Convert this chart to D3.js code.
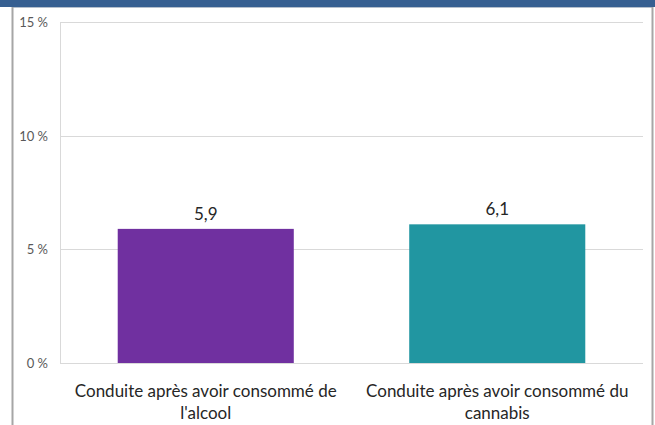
<!DOCTYPE html>
<html>
<head>
<meta charset="utf-8">
<script src="https://cdn.jsdelivr.net/npm/d3@7"></script>
<style>
  body { margin: 0; background: #fff; }
  svg { display: block; font-family: Lato, "Open Sans", sans-serif; }
</style>
</head>
<body>
<div class="contain"></div>
<script>
// data
const categories = ["Conduite après avoir consommé de l'alcool", "Conduite après avoir consommé du cannabis"];
const catLines = [["Conduite après avoir consommé de", "l'alcool"], ["Conduite après avoir consommé du", "cannabis"]];
const values = [5.9, 6.1];
const valueLabels = ["5,9", "6,1"];
const yTicks = [0, 5, 10, 15];
const barColors = ["#7030a0", "#2196a1"];

const svg_width = 655;
const svg_height = 425;

let svg = d3.select(".contain").append("svg")
  .attr("width", svg_width).attr("height", svg_height);

// frame
svg.append("rect").attr("x", 0).attr("y", 0).attr("width", svg_width).attr("height", 7)
  .attr("fill", "#365f91");
svg.append("line").attr("x1", 12).attr("x2", 653).attr("y1", 7.5).attr("y2", 7.5)
  .attr("stroke", "#b4bfcc");
svg.append("line").attr("x1", 12.5).attr("x2", 12.5).attr("y1", 7).attr("y2", svg_height)
  .attr("stroke", "#a6a6a6").attr("stroke-width", 2);
svg.append("line").attr("x1", 652.5).attr("x2", 652.5).attr("y1", 7).attr("y2", svg_height)
  .attr("stroke", "#a6a6a6").attr("stroke-width", 2);

const plot_left = 60, plot_right = 643, plot_top = 22, plot_bottom = 363;

let yScale = d3.scaleLinear().domain([0, 15]).range([plot_bottom, plot_top]);
let xScale = d3.scaleBand().domain(categories).range([plot_left, plot_right])
  .paddingInner(0.396).paddingOuter(0.198);

// gridlines
svg.append("g").selectAll("line").data(yTicks).enter().append("line")
  .attr("x1", plot_left).attr("x2", plot_right)
  .attr("y1", d => Math.round(yScale(d)) + 0.5).attr("y2", d => Math.round(yScale(d)) + 0.5)
  .attr("stroke", "#d9d9d9");
svg.append("line").attr("x1", plot_left + 0.5).attr("x2", plot_left + 0.5)
  .attr("y1", plot_top).attr("y2", plot_bottom + 0.5).attr("stroke", "#d9d9d9");

// y tick labels
svg.append("g").selectAll("text").data(yTicks).enter().append("text")
  .attr("x", 48).attr("y", d => yScale(d) + 5)
  .attr("text-anchor", "end").attr("font-size", 13).attr("fill", "#595959")
  .text(d => d + " %");

// bars
svg.append("g").selectAll("rect").data(values).enter().append("rect")
  .attr("x", (d, i) => xScale(categories[i]))
  .attr("width", xScale.bandwidth())
  .attr("y", d => yScale(d))
  .attr("height", d => plot_bottom - yScale(d))
  .attr("fill", (d, i) => barColors[i]);

// value labels
svg.append("g").selectAll("text").data(values).enter().append("text")
  .attr("x", (d, i) => xScale(categories[i]) + xScale.bandwidth() / 2)
  .attr("y", d => yScale(d) - 9)
  .attr("text-anchor", "middle").attr("font-size", 17).attr("fill", "#262626")
  .text((d, i) => valueLabels[i]);

// category labels
let cat = svg.append("g").selectAll("text").data(catLines).enter().append("text")
  .attr("text-anchor", "middle").attr("font-size", 17).attr("fill", "#262626");
cat.selectAll("tspan").data((d, i) => d.map(t => ({t, i}))).enter().append("tspan")
  .attr("x", d => xScale(categories[d.i]) + xScale.bandwidth() / 2)
  .attr("y", (d, j) => 397 + j * 22)
  .text(d => d.t);
</script>
</body>
</html>
